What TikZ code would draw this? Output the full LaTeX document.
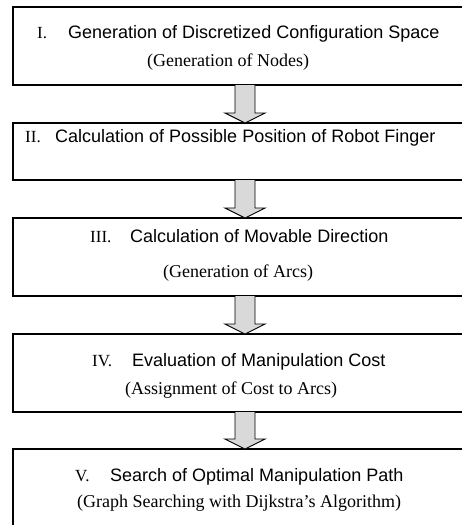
\documentclass[tikz,border=0pt]{standalone}
\usepackage{fontspec}
\setmainfont{Liberation Serif}
\setsansfont{Liberation Sans}
\usetikzlibrary{calc}
\definecolor{arrowgray}{RGB}{217,217,217}
\begin{document}
\begin{tikzpicture}[x=1pt,y=-1pt,
  box/.style={draw, line width=1.3pt, minimum width=464pt, inner sep=0pt, outer sep=0pt},
  roman/.style={anchor=base west, inner sep=0pt, font=\fontsize{17}{20}\selectfont\rmfamily},
  main/.style={anchor=base west, inner sep=0pt, font=\fontsize{18}{20}\selectfont\sffamily},
  sub/.style={anchor=base west, inner sep=0pt, font=\fontsize{18}{20}\selectfont\rmfamily},
  fat/.style={draw, line width=0.9pt, fill=arrowgray, line join=miter}]
\useasboundingbox (0,0) rectangle (462,525);
\begin{scope}
\clip (0,0) rectangle (462,525);
\node[box, minimum height=78pt] (b1) at (245,46) {};
\node[box, minimum height=57pt] (b2) at (245,151.5) {};
\node[box, minimum height=78pt] (b3) at (245,257) {};
\node[box, minimum height=78pt] (b4) at (245,373) {};
\node[box, minimum height=91pt] (b5) at (245,494.5) {};

\foreach \a/\b in {b1/b2, b2/b3, b3/b4, b4/b5}{
  \draw[fat] ($(\a.south)+(-10,0)$) -- ($(\b.north)+(-10,-10)$) -- ($(\b.north)+(-20,-10)$)
    -- (\b.north) -- ($(\b.north)+(20,-10)$) -- ($(\b.north)+(10,-10)$) -- ($(\a.south)+(10,0)$);
}

\node[roman] (r1) at (37,38) {I.};
\node[main] (t1) at (68,38) {Generation of Discretized Configuration Space};
\node[sub] (s1) at (147,66) {(Generation of Nodes)};

\node[roman] (r2) at (25,142) {II.};
\node[main] (t2) at (55,142) {Calculation of Possible Position of Robot Finger};

\node[roman] (r3) at (90,242) {III.};
\node[main] (t3) at (130,242) {Calculation of Movable Direction};
\node[sub] (s3) at (163,277) {(Generation of Arcs)};

\node[roman] (r4) at (92,366) {IV.};
\node[main] (t4) at (132,366) {Evaluation of Manipulation Cost};
\node[sub] (s4) at (125,394) {(Assignment of Cost to Arcs)};

\node[roman] (r5) at (75,481) {V.};
\node[main] (t5) at (110,481) {Search of Optimal Manipulation Path};
\node[sub] (s5) at (77,507) {(Graph Searching with Dijkstra’s Algorithm)};
\end{scope}
\end{tikzpicture}
\end{document}
